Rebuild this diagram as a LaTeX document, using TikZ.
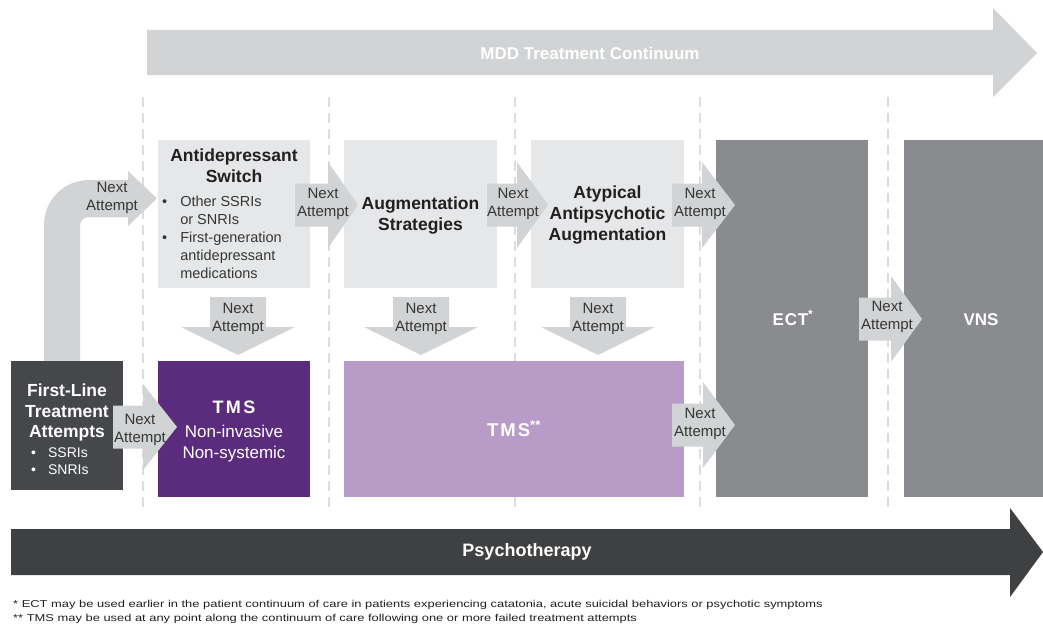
\documentclass[tikz,border=0pt]{standalone}
\usepackage{fontspec}
\setmainfont{Liberation Sans}
\usepackage{graphicx}
\definecolor{arrowc}{HTML}{D1D3D4}
\definecolor{lightc}{HTML}{E6E7E8}
\definecolor{dashc}{HTML}{DCDDDE}
\definecolor{ectc}{HTML}{8A8B8E}
\definecolor{firstc}{HTML}{45474A}
\definecolor{psyc}{HTML}{3F4042}
\definecolor{tmsc}{HTML}{5B2C7E}
\definecolor{tmslc}{HTML}{B99BC7}
\definecolor{titlec}{HTML}{231F20}
\definecolor{txtc}{HTML}{363636}
\newcommand{\blockR}[4]{\fill[arrowc] (#1,#4-21.5) -- (#2,#4-21.5) -- (#2,#4-43) -- (#3,#4) -- (#2,#4+43) -- (#2,#4+21.5) -- (#1,#4+21.5) -- cycle;}
\newcommand{\blockD}[1]{\fill[arrowc] (#1-28,297) -- (#1+28,297) -- (#1+28,327) -- (#1+57,327) -- (#1,355) -- (#1-57,327) -- (#1-28,327) -- cycle;}
\tikzset{
  box/.style={draw=none, inner sep=0pt, outer sep=0pt, anchor=north west},
  natext/.style={font=\fontsize{15}{18}\selectfont, text=txtc, align=center, inner sep=0pt},
  titletext/.style={font=\bfseries\fontsize{17.5}{21}\selectfont, text=titlec, align=center, inner sep=0pt},
  whitetext/.style={font=\bfseries\fontsize{17}{21}\selectfont, text=white, align=center, inner sep=0pt},
  bultext/.style={font=\fontsize{14.5}{18}\selectfont, text=txtc, inner sep=0pt, anchor=north west},
  dashline/.style={draw=dashc, line width=1.6pt, dash pattern=on 10pt off 6pt},
  foot/.style={font=\fontsize{10}{12}\selectfont, text=titlec, inner sep=0pt, anchor=base west}
}
\begin{document}
\begin{tikzpicture}[x=1pt,y=-1pt]
\useasboundingbox (0,0) rectangle (1043,626);
\fill[white] (0,0) rectangle (1043,626);
% dashed separators
\foreach \xx in {143,329,515,700,888} \draw[dashline] (\xx,97) -- (\xx,512);
% top continuum arrow
\fill[arrowc] (147,30) -- (993,30) -- (993,8) -- (1037,53) -- (993,97) -- (993,75) -- (147,75) -- cycle;
\node[whitetext] (mdd) at (590,53) {MDD Treatment Continuum};
% boxes
\node[box, fill=lightc, minimum width=152pt, minimum height=148pt] (switch) at (158,140) {};
\node[box, fill=lightc, minimum width=153pt, minimum height=148pt] (aug) at (344,140) {};
\node[box, fill=lightc, minimum width=153pt, minimum height=148pt] (atyp) at (531,140) {};
\node[box, fill=ectc, minimum width=152pt, minimum height=357pt] (ect) at (716,140) {};
\node[box, fill=ectc, minimum width=139pt, minimum height=357pt] (vns) at (904,140) {};
% curved arrow from first line
\fill[arrowc] (44,361) -- (44,225) .. controls (44,200) and (64,180) .. (89,180) -- (128,180) -- (128,171) -- (157,198.5) -- (128,226) -- (128,217) -- (88,217) .. controls (83.6,217) and (80,221.4) .. (80,225) -- (80,361) -- cycle;
\node[box, fill=firstc, minimum width=112pt, minimum height=129pt] (first) at (11,361) {};
\node[box, fill=tmsc, minimum width=152pt, minimum height=136pt] (tms) at (158,361) {};
\node[box, fill=tmslc, minimum width=340pt, minimum height=136pt] (tmsl) at (344,361) {};
% next attempt arrows
\blockR{295}{328}{358}{205}
\blockR{487}{517}{548}{205}
\blockR{672}{702}{735}{205}
\blockR{672}{703}{735}{425}
\blockR{859}{891}{922}{319}
\blockR{113}{143}{177}{427}
\blockD{238}
\blockD{421}
\blockD{598}
% bottom psychotherapy arrow
\fill[psyc] (11,529) -- (1010,529) -- (1010,508) -- (1043,552) -- (1010,597) -- (1010,575) -- (11,575) -- cycle;
\node[whitetext, font=\bfseries\fontsize{18}{21}\selectfont] (psy) at (527,552) {Psychotherapy};
% titles
\node[titletext] (switchT) at (234,166.2) {Antidepressant\\Switch};
\node[bultext] (switchB) at (162,193.4) {\begin{tabular}{@{}l@{\hspace{13pt}}l@{}}\textbullet & Other SSRIs\\ & or SNRIs\\ \textbullet & First-generation\\ & antidepressant\\ & medications\end{tabular}};
\node[titletext] (augT) at (420.5,215.4) {Augmentation\\Strategies};
\node[titletext] (atypT) at (607.5,215.4) {Atypical\\Antipsychotic\\Augmentation};
\node[titletext, text=white, font=\bfseries\fontsize{17.5}{20.5}\selectfont] (firstT) at (67,412.9) {First-Line\\Treatment\\Attempts};
\node[bultext, text=white, font=\fontsize{14}{17.5}\selectfont] (firstB) at (31,444.8) {\begin{tabular}{@{}l@{\hspace{12pt}}l@{}}\textbullet & SSRIs\\ \textbullet & SNRIs\end{tabular}};
\node[whitetext, anchor=base, font=\bfseries\fontsize{18}{21}\selectfont] (tmsT) at (234,413) {T\hspace{2.5pt}M\hspace{2.5pt}S};
\node[whitetext, font=\fontsize{17}{21}\selectfont] (tmsS) at (234,443.2) {Non-invasive\\Non-systemic};
\node[whitetext, anchor=base, font=\bfseries\fontsize{18.5}{21}\selectfont] (tmslT) at (514,436) {T\hspace{2pt}M\hspace{2pt}S\textsuperscript{**}};
\node[whitetext, anchor=base] (ectT) at (793,325) {E\hspace{0.8pt}C\hspace{0.8pt}T\textsuperscript{*}};
\node[whitetext, anchor=base] (vnsT) at (981,325) {VNS};
% next attempt labels
\node[natext] (na0) at (112,198) {Next\\Attempt};
\node[natext] (na1) at (323,204) {Next\\Attempt};
\node[natext] (na2) at (513,204) {Next\\Attempt};
\node[natext] (na3) at (700,204) {Next\\Attempt};
\node[natext] (na4) at (700,424) {Next\\Attempt};
\node[natext] (na5) at (887,317) {Next\\Attempt};
\node[natext] (na6) at (140,430) {Next\\Attempt};
\node[natext] (nd1) at (238,319) {Next\\Attempt};
\node[natext] (nd2) at (421,319) {Next\\Attempt};
\node[natext] (nd3) at (598,319) {Next\\Attempt};
% footnotes
\node[foot] (fn1) at (13,607) {\scalebox{1.29}[1]{* ECT may be used earlier in the patient continuum of care in patients experiencing catatonia, acute suicidal behaviors or psychotic symptoms}};
\node[foot] (fn2) at (13,621) {\scalebox{1.29}[1]{** TMS may be used at any point along the continuum of care following one or more failed treatment attempts}};
\end{tikzpicture}
\end{document}
